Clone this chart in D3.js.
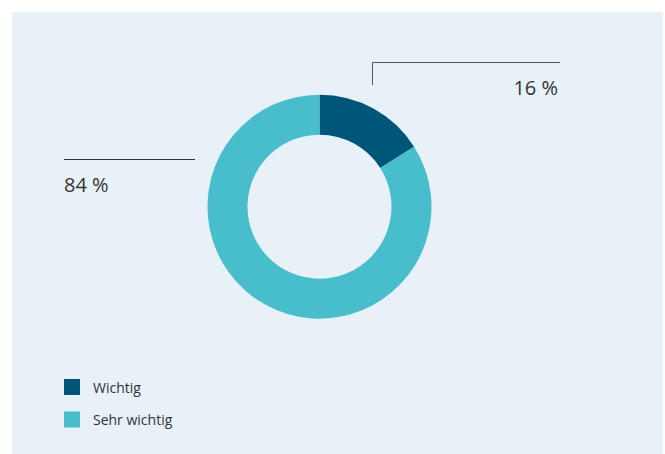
<!DOCTYPE html>
<html>
<head>
<meta charset="utf-8">
<script src="https://cdn.jsdelivr.net/npm/d3@7"></script>
<style>
  html, body { margin: 0; padding: 0; background: #ffffff; }
  svg { display: block; font-family: "Open Sans", "Noto Sans", sans-serif; }
</style>
</head>
<body>
<svg id="chart" width="665" height="454"></svg>
<script>
// Share of answers per category (percent)
const categories = ["Wichtig", "Sehr wichtig"];
const values = [16, 84];
const colors = ["#005677", "#48bdcc"];
const valueLabels = ["16 %", "84 %"];

const svg = d3.select("#chart");
const W = 665, H = 454;

// Panel background
svg.append("rect")
  .attr("x", 12).attr("y", 12)
  .attr("width", 651).attr("height", H - 12)
  .attr("fill", "#e8f1f7");

const cx = 319.5, cy = 206.7;
const outerR = 112, innerR = 72;

const pie = d3.pie().sort(null).value(d => d)(values);
const arc = d3.arc().innerRadius(innerR).outerRadius(outerR);

const g = svg.append("g").attr("transform", `translate(${cx},${cy})`);
g.selectAll("path")
  .data(pie)
  .join("path")
  .attr("d", arc)
  .attr("fill", (d, i) => colors[i]);

// Callout for the smaller slice (upper right)
const callouts = svg.append("g").attr("fill", "none").attr("stroke-width", 1);
callouts.append("path")
  .attr("d", "M372.5,85 V62.5 H560")
  .attr("stroke", "#555555");
svg.append("text")
  .attr("x", 558).attr("y", 95)
  .attr("text-anchor", "end")
  .attr("font-size", 20)
  .attr("fill", "#333333")
  .text(valueLabels[0]);

// Callout for the larger slice (left)
callouts.append("path")
  .attr("d", "M64,159.5 H195")
  .attr("stroke", "#333333");
svg.append("text")
  .attr("x", 64).attr("y", 192)
  .attr("text-anchor", "start")
  .attr("font-size", 20)
  .attr("fill", "#333333")
  .text(valueLabels[1]);

// Legend
const legend = svg.append("g");
const ly = d3.scalePoint().domain(categories).range([379, 411.5]);
const item = legend.selectAll("g")
  .data(categories)
  .join("g")
  .attr("transform", d => `translate(64,${ly(d)})`);
item.append("rect")
  .attr("width", 16).attr("height", 16)
  .attr("fill", (d, i) => colors[i]);
item.append("text")
  .attr("x", 29).attr("y", 13.5)
  .attr("font-size", 14)
  .attr("fill", "#333333")
  .text(d => d);
</script>
</body>
</html>
